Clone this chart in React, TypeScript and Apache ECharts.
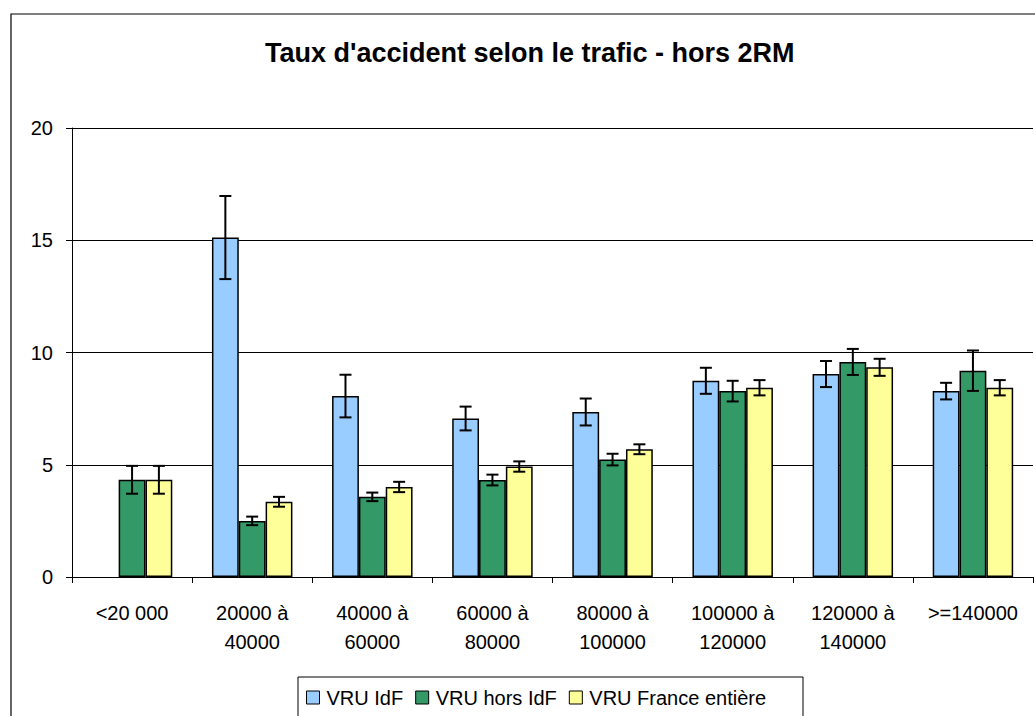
import React, { useEffect, useRef } from "react";
import * as echarts from "echarts";

const categories = [
  "<20 000",
  "20000 à\n40000",
  "40000 à\n60000",
  "60000 à\n80000",
  "80000 à\n100000",
  "100000 à\n120000",
  "120000 à\n140000",
  ">=140000",
];
const seriesNames = ["VRU IdF", "VRU hors IdF", "VRU France entière"];
const idfValues: (number | null)[] = [null, 15.12, 8.06, 7.06, 7.35, 8.74, 9.04, 8.28];
const idfErrors: (number | null)[] = [null, 1.85, 0.95, 0.53, 0.6, 0.58, 0.58, 0.37];
const horsValues: (number | null)[] = [4.33, 2.5, 3.57, 4.32, 5.23, 8.28, 9.58, 9.19];
const horsErrors: (number | null)[] = [0.62, 0.19, 0.19, 0.24, 0.26, 0.46, 0.58, 0.9];
const franceValues: (number | null)[] = [4.33, 3.35, 4.01, 4.92, 5.69, 8.43, 9.34, 8.43];
const franceErrors: (number | null)[] = [0.62, 0.22, 0.23, 0.23, 0.22, 0.34, 0.38, 0.34];
const colors = ["#99CCFF", "#339966", "#FFFF99"];
const yTicks = { min: 0, max: 20, interval: 5 };

const FONT = "'Liberation Sans', Arial, sans-serif";
const CAT_GAP = 0.33;

export default function App() {
  const ref = useRef<HTMLDivElement>(null);
  useEffect(() => {
    if (!ref.current) return;
    const chart = echarts.init(ref.current, undefined, { renderer: "svg" });
    const values = [idfValues, horsValues, franceValues];
    const errors = [idfErrors, horsErrors, franceErrors];

    const barSeries = values.map((vals, i) => ({
      name: seriesNames[i],
      type: "bar",
      data: vals.map((v) => (v == null ? "-" : v)),
      barGap: "0%",
      barCategoryGap: CAT_GAP * 100 + "%",
      itemStyle: { color: colors[i], borderColor: "#000", borderWidth: 1.5 },
      z: 2,
    }));

    const errSeries = values.map((vals, i) => ({
      name: seriesNames[i] + " err",
      type: "custom",
      z: 5,
      silent: true,
      encode: { x: 0, y: [1, 2] },
      data: vals
        .map((v, k) =>
          v == null || errors[i][k] == null ? null : [k, v - (errors[i][k] as number), v + (errors[i][k] as number)]
        )
        .filter((d) => d != null),
      renderItem: (params: any, api: any) => {
        const x = api.value(0);
        const low = api.value(1);
        const high = api.value(2);
        const band = api.size([1, 0])[0];
        const bw = (band * (1 - CAT_GAP)) / 3;
        const off = (i - 1) * bw;
        const pHigh = api.coord([x, high]);
        const pLow = api.coord([x, low]);
        const cx = pHigh[0] + off;
        const cap = 6;
        const style = { stroke: "#000", lineWidth: 2 };
        return {
          type: "group",
          children: [
            { type: "line", shape: { x1: cx, y1: pHigh[1], x2: cx, y2: pLow[1] }, style },
            { type: "line", shape: { x1: cx - cap, y1: pHigh[1], x2: cx + cap, y2: pHigh[1] }, style },
            { type: "line", shape: { x1: cx - cap, y1: pLow[1], x2: cx + cap, y2: pLow[1] }, style },
          ],
        };
      },
    }));

    chart.setOption({
      animation: false,
      backgroundColor: "#fff",
      textStyle: { fontFamily: FONT, color: "#000" },
      title: {
        text: "Taux d'accident selon le trafic - hors 2RM",
        left: 260,
        top: 34,
        textStyle: { fontFamily: FONT, fontSize: 27, fontWeight: "bold", color: "#000" },
      },
      legend: {
        data: seriesNames,
        left: 306,
        top: 676,
        padding: 0,
        itemWidth: 13,
        itemHeight: 13,
        itemGap: 12,
        icon: "rect",
        itemStyle: { borderColor: "#000", borderWidth: 1 },
        textStyle: { fontFamily: FONT, fontSize: 20, color: "#000", lineHeight: 22, padding: [0, 0, 21, 2] },
      },
      grid: { left: 72, right: 2, top: 128, bottom: 139, containLabel: false },
      xAxis: {
        type: "category",
        data: categories,
        axisLine: { lineStyle: { color: "#000", width: 1 } },
        axisTick: { show: true, length: 6, lineStyle: { color: "#000" } },
        axisLabel: { fontFamily: FONT, fontSize: 20, color: "#000", margin: 21, lineHeight: 29, interval: 0 },
      },
      yAxis: {
        type: "value",
        min: yTicks.min,
        max: yTicks.max,
        interval: yTicks.interval,
        axisLine: { show: true, lineStyle: { color: "#000", width: 1 } },
        axisTick: { show: true, length: 6, lineStyle: { color: "#000" } },
        axisLabel: { fontFamily: FONT, fontSize: 20, color: "#000", margin: 19 },
        splitLine: { show: true, lineStyle: { color: "#000", width: 1 } },
      },
      graphic: [
        {
          type: "rect",
          shape: { x: 11, y: 14, width: 1100, height: 800 },
          style: { fill: "none", stroke: "#000", lineWidth: 1.2 },
          silent: true,
          z: -1,
        },
        {
          type: "rect",
          shape: { x: 298, y: 677, width: 505, height: 80 },
          style: { fill: "none", stroke: "#000", lineWidth: 1 },
          silent: true,
        },
      ],
      series: [...barSeries, ...errSeries],
    });
    return () => chart.dispose();
  }, []);
  return (
    <div
      ref={ref}
      style={{ position: "fixed", left: 0, top: 0, width: 1035, height: 716, background: "#fff" }}
    />
  );
}
